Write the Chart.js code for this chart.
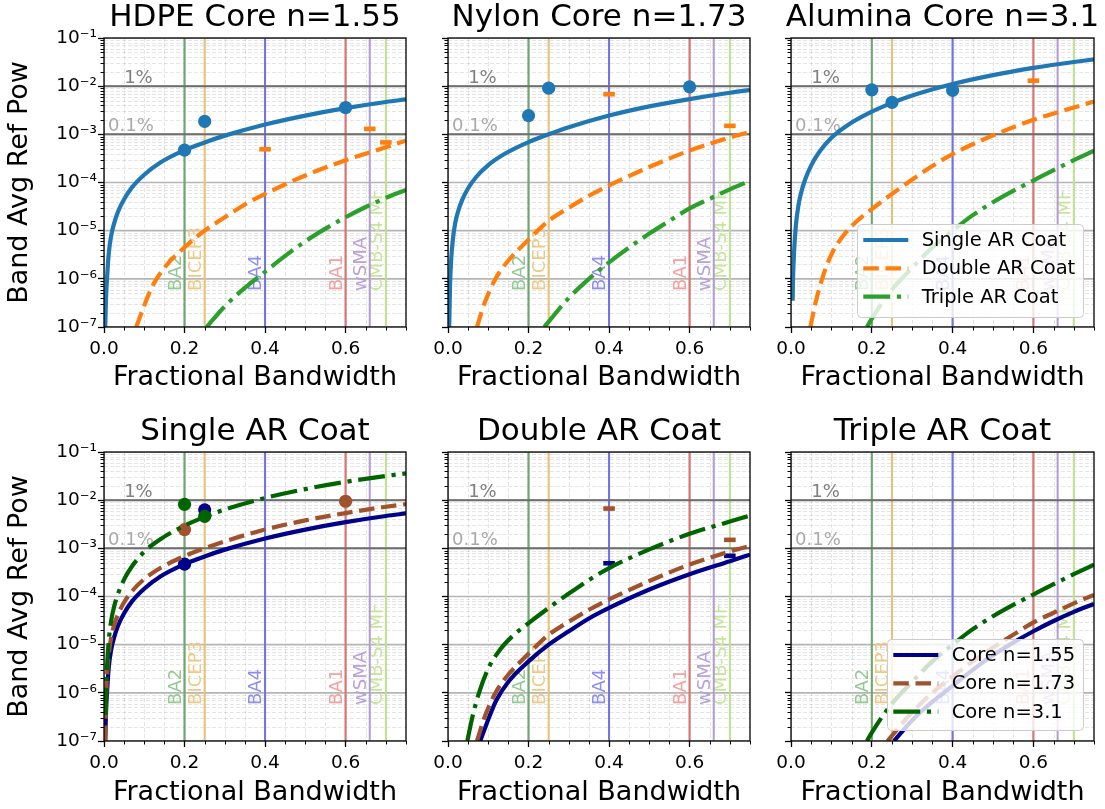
<!DOCTYPE html>
<html><head><meta charset="utf-8">
<script src="https://cdn.jsdelivr.net/npm/chart.js@4.4.0/dist/chart.umd.min.js"></script>
<style>
html,body{margin:0;padding:0;background:#fff;}
#wrap{position:relative;width:1105px;height:809px;overflow:hidden;background:#fff;}
canvas{position:absolute;}
</style></head><body><div id="wrap"></div>
<script>
// ================= DATA =================
const panelTitles = ['HDPE Core n=1.55','Nylon Core n=1.73','Alumina Core n=3.1','Single AR Coat','Double AR Coat','Triple AR Coat'];
const xAxisTitle = 'Fractional Bandwidth';
const yAxisTitle = 'Band Avg Ref Pow';
const xTickValues = [0, 0.2, 0.4, 0.6];
const xTickLabels = ['0.0','0.2','0.4','0.6'];
const yTickValues = [1e-7,1e-6,1e-5,1e-4,1e-3,1e-2,1e-1];
const yTickLabels = ['10⁻⁷','10⁻⁶','10⁻⁵','10⁻⁴','10⁻³','10⁻²','10⁻¹'];
const bandNames = ['BA2','BICEP3','BA4','BA1','wSMA','CMB-S4 MF'];
const bandFrac  = [0.2, 0.25, 0.4, 0.6, 0.66, 0.7];
const pctLevels = [1e-2, 1e-3];
const pctLabels = ['1%','0.1%'];
const topLegend = ['Single AR Coat','Double AR Coat','Triple AR Coat'];
const bottomLegend = ['Core n=1.55','Core n=1.73','Core n=3.1'];

// HDPE n=1.55
const s155X = [0.003,0.005,0.008,0.012,0.018,0.025,0.035,0.05,0.07,0.1,0.14,0.2,0.25,0.3,0.4,0.5,0.6,0.7,0.75];
const s155Y = [1e-7,4e-7,1.2e-6,3.5e-6,8e-6,1.4e-5,2.5e-5,4.5e-5,8e-5,1.45e-4,2.6e-4,4.7e-4,6.8e-4,9.4e-4,1.6e-3,2.45e-3,3.5e-3,4.7e-3,5.3e-3];
const d155X = [0.08,0.1,0.12,0.15,0.2,0.25,0.3,0.35,0.4,0.5,0.6,0.7,0.75];
const d155Y = [1e-7,2.8e-7,7e-7,1.7e-6,4.5e-6,1e-5,1.9e-5,3.5e-5,5.8e-5,1.4e-4,2.9e-4,5.4e-4,7.4e-4];
const t155X = [0.255,0.3,0.35,0.4,0.45,0.5,0.55,0.6,0.65,0.7,0.75];
const t155Y = [1e-7,2.7e-7,6.5e-7,1.4e-6,3e-6,6e-6,1.1e-5,1.9e-5,3.1e-5,4.8e-5,7e-5];
// Nylon n=1.73
const s173X = [0.003,0.005,0.008,0.012,0.018,0.025,0.035,0.05,0.07,0.1,0.14,0.2,0.25,0.3,0.4,0.5,0.6,0.7,0.75];
const s173Y = [1e-7,7e-7,2.6e-6,6.5e-6,1.45e-5,2.5e-5,4.3e-5,7.6e-5,1.3e-4,2.3e-4,3.9e-4,6.9e-4,1e-3,1.4e-3,2.45e-3,3.8e-3,5.4e-3,7.3e-3,8.3e-3];
const d173X = [0.072,0.09,0.118,0.15,0.2,0.25,0.3,0.35,0.4,0.5,0.6,0.7,0.75];
const d173Y = [1e-7,3e-7,1e-6,2.4e-6,6.5e-6,1.6e-5,3e-5,5.3e-5,8.7e-5,2.1e-4,4.6e-4,8.6e-4,1.12e-3];
const t173X = [0.239,0.3,0.35,0.4,0.45,0.5,0.55,0.6,0.65,0.7,0.75];
const t173Y = [1e-7,4e-7,1e-6,2.2e-6,4.5e-6,8.7e-6,1.6e-5,2.9e-5,4.6e-5,7.2e-5,1.08e-4];
// Alumina n=3.1
const s31X = [0.004,0.005,0.008,0.012,0.018,0.025,0.035,0.05,0.07,0.1,0.14,0.2,0.25,0.3,0.4,0.5,0.6,0.7,0.75];
const s31Y = [3.5e-7,1e-6,4.1e-6,1.27e-5,3.2e-5,6.1e-5,1.15e-4,2.27e-4,4.3e-4,8.5e-4,1.55e-3,2.95e-3,4.5e-3,6.4e-3,1.11e-2,1.7e-2,2.4e-2,3.18e-2,3.6e-2];
const d31X = [0.048,0.06,0.077,0.1,0.13,0.16,0.2,0.25,0.3,0.35,0.4,0.5,0.6,0.7,0.75];
const d31Y = [1e-7,3e-7,1e-6,3.2e-6,8e-6,1.5e-5,2.8e-5,5.8e-5,1.15e-4,2.2e-4,3.9e-4,9.5e-4,2e-3,3.6e-3,4.8e-3];
const t31X = [0.188,0.2,0.25,0.3,0.35,0.4,0.45,0.5,0.55,0.6,0.65,0.7,0.75];
const t31Y = [1e-7,1.5e-7,6e-7,1.7e-6,4.5e-6,1e-5,2.1e-5,3.9e-5,6.7e-5,1.1e-4,1.8e-4,2.9e-4,4.6e-4];

// measured points (top row)
const hdpeSingleMeasX = [0.2,0.25,0.6];   const hdpeSingleMeasY = [4.7e-4,1.86e-3,3.6e-3];
const hdpeDoubleMeasX = [0.4,0.66,0.7];   const hdpeDoubleMeasY = [4.9e-4,1.3e-3,6.8e-4];
const nylonSingleMeasX = [0.2,0.25,0.6];  const nylonSingleMeasY = [2.45e-3,9.1e-3,9.7e-3];
const nylonDoubleMeasX = [0.4,0.7];       const nylonDoubleMeasY = [6.8e-3,1.5e-3];
const aluSingleMeasX = [0.2,0.25,0.4];    const aluSingleMeasY = [8.4e-3,4.6e-3,8.2e-3];
const aluDoubleMeasX = [0.6];             const aluDoubleMeasY = [1.3e-2];
// measured points (bottom row)
const n155SingleMeasX = [0.2,0.25];  const n155SingleMeasY = [4.7e-4,6.3e-3];
const n173SingleMeasX = [0.2,0.6];   const n173SingleMeasY = [2.45e-3,9.5e-3];
const n31SingleMeasX  = [0.2,0.25];  const n31SingleMeasY  = [8.2e-3,4.6e-3];
const n155DoubleMeasX = [0.4,0.7];   const n155DoubleMeasY = [4.9e-4,7e-4];
const n173DoubleMeasX = [0.4,0.7];   const n173DoubleMeasY = [6.7e-3,1.5e-3];

// ================= STYLE =================
const STYLE = {
  font: "'DejaVu Sans', sans-serif",
  topColors: ['#1f77b4','#ff7f0e','#2ca02c'],
  botColors: ['#00008b','#a0522d','#006400'],
  dashes: [[], [15.5,6.7], [26.9,6.7,4.2,6.7]],
  lw: 4.2,
  bandLine:  ['#6ea86e','#e8c274','#7272e6','#e07272','#b39bd6','#bfe08e'],
  bandLabel: ['#93c993','#ecca86','#8e8ef0','#f3a0a0','#b8a0d8','#c6e59c'],
  bandLabelY: 5.6e-7,
  hlineColor: '#6e6e6e',
  pctColors: ['#808080','#a9a9a9'],
  pctX: [0.05, 0.01],
  majorGrid: '#b5b5b5',
  minorGrid: 'rgba(0,0,0,0.10)',
  titleSize: 31, axisTitleSize: 27, tickSize: 18.5, legendSize: 19.5, labelSize: 18
};
const ROWS = [{ct:0, H:400, padTop:38, xh:73, xtpb:6.3}, {ct:400, H:409, padTop:52, xh:68, xtpb:0.3}];
const COLS = [{cl:0, W:420, padRight:14}, {cl:344, W:420, padRight:14}, {cl:687, W:418, padRight:11}];

Chart.defaults.font.family = STYLE.font;
Chart.defaults.color = '#000';

const pts = (xs, ys) => xs.map((x, i) => ({x, y: ys[i]}));

const coreCurves = [
  [[s155X,s155Y],[d155X,d155Y],[t155X,t155Y]],
  [[s173X,s173Y],[d173X,d173Y],[t173X,t173Y]],
  [[s31X,s31Y],[d31X,d31Y],[t31X,t31Y]]
];
const topMeas = [
  [[hdpeSingleMeasX,hdpeSingleMeasY],[hdpeDoubleMeasX,hdpeDoubleMeasY]],
  [[nylonSingleMeasX,nylonSingleMeasY],[nylonDoubleMeasX,nylonDoubleMeasY]],
  [[aluSingleMeasX,aluSingleMeasY],[aluDoubleMeasX,aluDoubleMeasY]]
];
const botMeas = [
  [[n155SingleMeasX,n155SingleMeasY],[n173SingleMeasX,n173SingleMeasY],[n31SingleMeasX,n31SingleMeasY]],
  [[n155DoubleMeasX,n155DoubleMeasY],[n173DoubleMeasX,n173DoubleMeasY],null],
  [null,null,null]
];

function baseDatasets() {
  const ds = [];
  bandFrac.forEach((f, i) => ds.push({
    data: [{x: f, y: yTickValues[0]}, {x: f, y: yTickValues[yTickValues.length-1]}],
    showLine: true, pointRadius: 0, borderColor: STYLE.bandLine[i], borderWidth: 2, order: 100, clip: 0
  }));
  pctLevels.forEach(v => ds.push({
    data: [{x: 0, y: v}, {x: 0.75, y: v}],
    showLine: true, pointRadius: 0, borderColor: STYLE.hlineColor, borderWidth: 2, order: 90, clip: 0
  }));
  return ds;
}
function curveDS(xy, color, dash, order) {
  return {data: pts(xy[0], xy[1]), showLine: true, pointRadius: 0, borderColor: color, borderWidth: STYLE.lw,
    borderDash: dash, cubicInterpolationMode: 'monotone', order, clip: 0};
}
function markDS(xy, color, kind, order) {
  if (kind === 'circle') return {data: pts(xy[0], xy[1]), showLine: false, pointStyle: 'circle', pointRadius: 6.6,
    pointBackgroundColor: color, pointBorderColor: color, pointBorderWidth: 0, order, clip: 0};
  return {data: pts(xy[0], xy[1]), showLine: false, pointStyle: 'line', pointRadius: 5.8,
    pointBackgroundColor: color, pointBorderColor: color, pointBorderWidth: 4.6, order, clip: 0};
}

const decorPlugin = {
  id: 'decor',
  beforeDatasetsDraw(chart, args, o) {
    const {ctx, chartArea: a} = chart; const x = chart.scales.x, y = chart.scales.y;
    ctx.save();
    ctx.beginPath(); ctx.rect(a.left, a.top, a.right - a.left, a.bottom - a.top); ctx.clip();
    // minor grid
    ctx.setLineDash([4, 2]); ctx.lineWidth = 1; ctx.strokeStyle = STYLE.minorGrid;
    ctx.beginPath();
    for (let k = 1; k <= 15; k++) { if (k % 4 === 0) continue; const px = Math.round(x.getPixelForValue(k * 0.05)) + 0.5; ctx.moveTo(px, a.top); ctx.lineTo(px, a.bottom); }
    for (let e = -7; e < -1; e++) for (let m = 2; m <= 9; m++) { const py = Math.round(y.getPixelForValue(m * Math.pow(10, e))) + 0.5; ctx.moveTo(a.left, py); ctx.lineTo(a.right, py); }
    ctx.stroke();
    // major grid
    ctx.setLineDash([]); ctx.lineWidth = 1.7; ctx.strokeStyle = STYLE.majorGrid;
    ctx.beginPath();
    xTickValues.forEach(v => { const px = x.getPixelForValue(v); ctx.moveTo(px, a.top); ctx.lineTo(px, a.bottom); });
    yTickValues.forEach(v => { const py = y.getPixelForValue(v); ctx.moveTo(a.left, py); ctx.lineTo(a.right, py); });
    ctx.stroke();
    // band labels
    ctx.font = STYLE.labelSize + 'px ' + STYLE.font; ctx.textAlign = 'left'; ctx.textBaseline = 'alphabetic';
    bandNames.forEach((nm, i) => {
      ctx.save();
      ctx.translate(x.getPixelForValue(bandFrac[i]) - 4, y.getPixelForValue(STYLE.bandLabelY));
      ctx.rotate(-Math.PI / 2);
      ctx.fillStyle = STYLE.bandLabel[i];
      ctx.fillText(nm, 0, 0);
      ctx.restore();
    });
    // percentage labels
    pctLabels.forEach((t, i) => {
      ctx.fillStyle = STYLE.pctColors[i];
      ctx.fillText(t, x.getPixelForValue(STYLE.pctX[i]), y.getPixelForValue(pctLevels[i]) - 3);
    });
    ctx.restore();
  },
  afterDatasetsDraw(chart, args, o) {
    if (!o.legend) return;
    const {ctx, chartArea: a} = chart; const lg = o.legend;
    const bx = a.right - lg.dr - lg.w, by = a.bottom - lg.db - lg.h;
    ctx.save();
    ctx.beginPath();
    if (ctx.roundRect) ctx.roundRect(bx + 0.5, by + 0.5, lg.w, lg.h, 4); else ctx.rect(bx + 0.5, by + 0.5, lg.w, lg.h);
    ctx.fillStyle = 'rgba(255,255,255,0.8)'; ctx.fill();
    ctx.lineWidth = 1; ctx.strokeStyle = '#cccccc'; ctx.stroke();
    lg.labels.forEach((t, i) => {
      const cy = by + 16 + i * 28.35;
      ctx.setLineDash(STYLE.dashes[i]); ctx.lineWidth = STYLE.lw; ctx.strokeStyle = lg.colors[i];
      ctx.beginPath(); ctx.moveTo(bx + 6.3, cy); ctx.lineTo(bx + 51.3, cy); ctx.stroke();
      ctx.setLineDash([]);
      ctx.fillStyle = '#000'; ctx.font = STYLE.legendSize + 'px ' + STYLE.font; ctx.textAlign = 'left'; ctx.textBaseline = 'middle';
      ctx.fillText(t, bx + 64.7, cy + 1);
    });
    ctx.restore();
  },
  afterDraw(chart, args, o) {
    const {ctx, chartArea: a} = chart; const x = chart.scales.x, y = chart.scales.y;
    ctx.save();
    // minor ticks
    ctx.strokeStyle = '#000'; ctx.lineWidth = 1; ctx.beginPath();
    for (let k = 1; k <= 15; k++) { if (k % 4 === 0) continue; const px = Math.round(x.getPixelForValue(k * 0.05)) + 0.5; ctx.moveTo(px, a.bottom); ctx.lineTo(px, a.bottom + 3.5); }
    for (let e = -7; e < -1; e++) for (let m = 2; m <= 9; m++) { const py = Math.round(y.getPixelForValue(m * Math.pow(10, e))) + 0.5; ctx.moveTo(a.left - 3.5, py); ctx.lineTo(a.left, py); }
    ctx.stroke();
    // spines
    ctx.lineWidth = 1.3; ctx.strokeStyle = '#000';
    ctx.strokeRect(a.left, a.top, a.right - a.left, a.bottom - a.top);
    // title
    ctx.fillStyle = '#000'; ctx.font = STYLE.titleSize + 'px ' + STYLE.font; ctx.textAlign = 'center'; ctx.textBaseline = 'alphabetic';
    ctx.fillText(o.title, (a.left + a.right) / 2, a.top - 12);
    ctx.restore();
  }
};

const wrap = document.getElementById('wrap');
function makePanel(p, datasets, legend) {
  const row = ROWS[Math.floor(p / 3)], col = COLS[p % 3];
  const showY = (p % 3 === 0);
  const c = document.createElement('canvas');
  c.width = col.W; c.height = row.H;
  c.style.left = col.cl + 'px'; c.style.top = row.ct + 'px';
  c.style.width = col.W + 'px'; c.style.height = row.H + 'px';
  wrap.appendChild(c);
  new Chart(c, {
    type: 'scatter',
    data: {datasets},
    options: {
      responsive: false, animation: false, devicePixelRatio: 1, events: [],
      layout: {padding: {left: 0, top: row.padTop, right: col.padRight, bottom: 0}},
      plugins: {legend: {display: false}, tooltip: {enabled: false}, title: {display: false},
        decor: {title: panelTitles[p], legend}},
      scales: {
        x: {type: 'linear', min: 0, max: 0.75, position: 'bottom',
          afterBuildTicks: s => { s.ticks = xTickValues.map(v => ({value: v})); },
          afterFit: s => { s.height = row.xh; },
          ticks: {stepSize: 0.2, includeBounds: false, callback: (v, i) => xTickLabels[i], font: {size: STYLE.tickSize}, color: '#000', padding: 5.4, maxRotation: 0, autoSkip: false},
          grid: {drawOnChartArea: false, drawTicks: true, tickLength: 6, tickWidth: 1.3, tickColor: '#000'},
          border: {display: false},
          title: {display: true, text: xAxisTitle, font: {size: STYLE.axisTitleSize}, color: '#000', padding: {top: 0, bottom: row.xtpb}}
        },
        y: {type: 'logarithmic', min: 1e-7, max: 1e-1, position: 'left',
          afterBuildTicks: s => { s.ticks = yTickValues.map(v => ({value: v})); },
          afterFit: s => { s.width = 104; },
          ticks: {display: showY, callback: (v, i) => yTickLabels[i], font: {size: STYLE.tickSize}, color: '#000', padding: 1, autoSkip: false},
          grid: {drawOnChartArea: false, drawTicks: true, tickLength: 6, tickWidth: 1.3, tickColor: '#000'},
          border: {display: false},
          title: {display: showY, text: yAxisTitle, font: {size: STYLE.axisTitleSize}, color: '#000', padding: {top: 3.6, bottom: 0}}
        }
      }
    },
    plugins: [decorPlugin]
  });
}

// top row: one panel per core
for (let core = 0; core < 3; core++) {
  const ds = baseDatasets();
  const col = STYLE.topColors;
  ds.push(curveDS(coreCurves[core][0], col[0], STYLE.dashes[0], 50));
  ds.push(markDS(topMeas[core][0], col[0], 'circle', 49));
  ds.push(curveDS(coreCurves[core][1], col[1], STYLE.dashes[1], 48));
  ds.push(markDS(topMeas[core][1], col[1], 'bar', 47));
  ds.push(curveDS(coreCurves[core][2], col[2], STYLE.dashes[2], 46));
  const legend = core === 2 ? {labels: topLegend, colors: STYLE.topColors, w: 226, h: 93, dr: 11, db: 10} : null;
  makePanel(core, ds, legend);
}
// bottom row: one panel per coat
for (let coat = 0; coat < 3; coat++) {
  const ds = baseDatasets();
  let ord = 50;
  for (let core = 0; core < 3; core++) {
    ds.push(curveDS(coreCurves[core][coat], STYLE.botColors[core], STYLE.dashes[core], ord--));
    const m = botMeas[coat][core];
    if (m) ds.push(markDS(m, STYLE.botColors[core], coat === 0 ? 'circle' : 'bar', ord--));
  }
  const legend = coat === 2 ? {labels: bottomLegend, colors: STYLE.botColors, w: 196, h: 91, dr: 11, db: 11} : null;
  makePanel(3 + coat, ds, legend);
}
</script>
</body></html>
